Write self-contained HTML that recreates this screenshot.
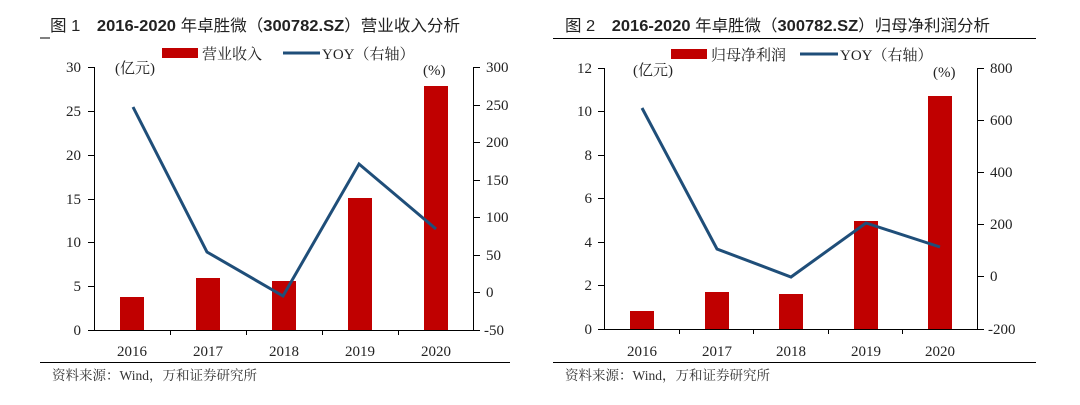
<!DOCTYPE html>
<html><head><meta charset="utf-8"><style>
html,body{margin:0;padding:0;background:#fff;width:1080px;height:405px;overflow:hidden}
svg{display:block}
.t{font-family:"Liberation Sans","Noto Sans CJK SC",sans-serif;font-size:16px;fill:#222}
.s{font-family:"Liberation Serif","Noto Serif CJK SC",serif;font-size:15px;fill:#222}
.f{font-family:"Liberation Serif","Noto Serif CJK SC",serif;font-size:13.5px;fill:#333}
</style></head><body>
<svg width="1080" height="405" viewBox="0 0 1080 405" xmlns="http://www.w3.org/2000/svg">
<!-- Chart 1 -->
<text class="t" x="50" y="31" textLength="410" lengthAdjust="spacingAndGlyphs">图 1　<tspan font-weight="bold">2016-2020</tspan> 年卓胜微（<tspan font-weight="bold">300782.SZ</tspan>）营业收入分析</text>
<line x1="40" y1="38" x2="50" y2="38" stroke="#000" stroke-width="1"/>
<rect x="162" y="48" width="36" height="10" fill="#c00000"/>
<text class="s" x="202" y="59">营业收入</text>
<line x1="283" y1="53" x2="320" y2="53" stroke="#1f4e79" stroke-width="3"/>
<text class="s" x="322" y="59">YOY（右轴）</text>
<text class="s" x="115" y="73">(亿元)</text>
<text class="s" x="423" y="75">(%)</text>
<g stroke="#000" stroke-width="1">
<line x1="94.5" y1="67" x2="94.5" y2="331"/>
<line x1="473.5" y1="67" x2="473.5" y2="331"/>
<line x1="88" y1="330.5" x2="480" y2="330.5"/>
<line x1="88" y1="67.5" x2="94" y2="67.5"/><line x1="88" y1="111.5" x2="94" y2="111.5"/><line x1="88" y1="155.5" x2="94" y2="155.5"/><line x1="88" y1="199.5" x2="94" y2="199.5"/><line x1="88" y1="242.5" x2="94" y2="242.5"/><line x1="88" y1="286.5" x2="94" y2="286.5"/>
<line x1="473" y1="67.5" x2="480" y2="67.5"/><line x1="473" y1="105.5" x2="480" y2="105.5"/><line x1="473" y1="142.5" x2="480" y2="142.5"/><line x1="473" y1="180.5" x2="480" y2="180.5"/><line x1="473" y1="217.5" x2="480" y2="217.5"/><line x1="473" y1="255.5" x2="480" y2="255.5"/><line x1="473" y1="292.5" x2="480" y2="292.5"/>
<line x1="170.5" y1="330" x2="170.5" y2="335"/><line x1="246.5" y1="330" x2="246.5" y2="335"/><line x1="322.5" y1="330" x2="322.5" y2="335"/><line x1="398.5" y1="330" x2="398.5" y2="335"/>
</g>
<g class="s" text-anchor="end">
<text x="81" y="72">30</text><text x="81" y="116">25</text><text x="81" y="160">20</text><text x="81" y="204">15</text><text x="81" y="247">10</text><text x="81" y="291">5</text><text x="81" y="335">0</text>
</g>
<g class="s">
<text x="486" y="72">300</text><text x="486" y="110">250</text><text x="486" y="147">200</text><text x="486" y="185">150</text><text x="486" y="222">100</text><text x="486" y="260">50</text><text x="486" y="297">0</text><text x="484" y="335">-50</text>
</g>
<g fill="#c00000">
<rect x="120" y="297" width="24" height="33"/>
<rect x="196" y="278" width="24" height="52"/>
<rect x="272" y="281" width="24" height="49"/>
<rect x="348" y="198" width="24" height="132"/>
<rect x="424" y="86" width="24" height="244"/>
</g>
<polyline points="133,107 207,252 283,296 359,164 436,229" fill="none" stroke="#1f4e79" stroke-width="3"/>
<g class="s" text-anchor="middle">
<text x="132" y="356">2016</text><text x="208" y="356">2017</text><text x="284" y="356">2018</text><text x="360" y="356">2019</text><text x="436" y="356">2020</text>
</g>
<line x1="40" y1="362.5" x2="510" y2="362.5" stroke="#000" stroke-width="1"/>
<text class="f" x="52" y="380">资料来源：Wind，万和证券研究所</text>

<!-- Chart 2 -->
<text class="t" x="565" y="31" textLength="425" lengthAdjust="spacingAndGlyphs">图 2　<tspan font-weight="bold">2016-2020</tspan> 年卓胜微（<tspan font-weight="bold">300782.SZ</tspan>）归母净利润分析</text>
<line x1="553" y1="38.5" x2="1036" y2="38.5" stroke="#000" stroke-width="1"/>
<rect x="671" y="49" width="36" height="10" fill="#c00000"/>
<text class="s" x="711" y="60">归母净利润</text>
<line x1="800" y1="54" x2="838" y2="54" stroke="#1f4e79" stroke-width="3"/>
<text class="s" x="840" y="60">YOY（右轴）</text>
<text class="s" x="633" y="75">(亿元)</text>
<text class="s" x="933" y="77">(%)</text>
<g stroke="#000" stroke-width="1">
<line x1="604.5" y1="68" x2="604.5" y2="330"/>
<line x1="977.5" y1="68" x2="977.5" y2="330"/>
<line x1="598" y1="329.5" x2="984" y2="329.5"/>
<line x1="598" y1="68.5" x2="604" y2="68.5"/><line x1="598" y1="111.5" x2="604" y2="111.5"/><line x1="598" y1="155.5" x2="604" y2="155.5"/><line x1="598" y1="198.5" x2="604" y2="198.5"/><line x1="598" y1="242.5" x2="604" y2="242.5"/><line x1="598" y1="285.5" x2="604" y2="285.5"/>
<line x1="977" y1="68.5" x2="984" y2="68.5"/><line x1="977" y1="120.5" x2="984" y2="120.5"/><line x1="977" y1="172.5" x2="984" y2="172.5"/><line x1="977" y1="224.5" x2="984" y2="224.5"/><line x1="977" y1="276.5" x2="984" y2="276.5"/>
<line x1="679.5" y1="329" x2="679.5" y2="334"/><line x1="753.5" y1="329" x2="753.5" y2="334"/><line x1="828.5" y1="329" x2="828.5" y2="334"/><line x1="902.5" y1="329" x2="902.5" y2="334"/>
</g>
<g class="s" text-anchor="end">
<text x="592" y="73">12</text><text x="592" y="116">10</text><text x="592" y="160">8</text><text x="592" y="203">6</text><text x="592" y="247">4</text><text x="592" y="290">2</text><text x="592" y="334">0</text>
</g>
<g class="s">
<text x="990" y="73">800</text><text x="990" y="125">600</text><text x="990" y="177">400</text><text x="990" y="229">200</text><text x="990" y="281">0</text><text x="988" y="334">-200</text>
</g>
<g fill="#c00000">
<rect x="630" y="311" width="24" height="18"/>
<rect x="705" y="292" width="24" height="37"/>
<rect x="779" y="294" width="24" height="35"/>
<rect x="854" y="221" width="24" height="108"/>
<rect x="928" y="96" width="24" height="233"/>
</g>
<polyline points="642,108 717,249 791,277 866,223 940,247" fill="none" stroke="#1f4e79" stroke-width="3"/>
<g class="s" text-anchor="middle">
<text x="642" y="356">2016</text><text x="717" y="356">2017</text><text x="791" y="356">2018</text><text x="866" y="356">2019</text><text x="940" y="356">2020</text>
</g>
<line x1="553" y1="362.5" x2="1036" y2="362.5" stroke="#000" stroke-width="1"/>
<text class="f" x="565" y="380">资料来源：Wind，万和证券研究所</text>
</svg>
</body></html>
